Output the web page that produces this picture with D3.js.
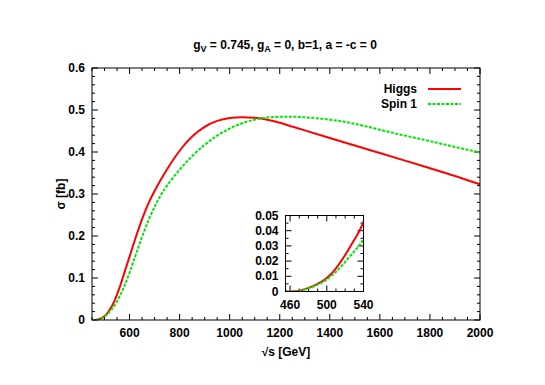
<!DOCTYPE html>
<html>
<head>
<meta charset="utf-8">
<script src="https://cdn.jsdelivr.net/npm/d3@7"></script>
<style>
  body { margin: 0; background: #fff; }
  svg text { font-family: "Liberation Sans", Arial, sans-serif; font-weight: bold; fill: #000; }
</style>
</head>
<body>
<div id="chart"></div>
<script>
// energies (GeV) and cross sections (fb)
var energies = [450, 460, 470, 480, 490, 500, 510, 520, 530, 540, 560, 580, 600, 620, 640, 660, 680, 700, 720, 750, 800, 850, 900, 950, 1000, 1050, 1100, 1150, 1200, 1250, 1300, 1400, 1500, 1600, 1700, 1800, 1900, 2000];
var higgsS = [0, 0, 0.0005, 0.0024, 0.005, 0.0088, 0.0152, 0.024, 0.034, 0.0457, 0.077, 0.114, 0.151, 0.188, 0.2235, 0.2555, 0.2835, 0.307, 0.329, 0.359, 0.403, 0.437, 0.460, 0.474, 0.481, 0.483, 0.4815, 0.477, 0.4695, 0.4605, 0.4515, 0.4335, 0.4155, 0.3975, 0.3795, 0.3615, 0.343, 0.323];
var spinS = [0, 0, 0.0004, 0.0022, 0.0045, 0.008, 0.013, 0.0195, 0.0265, 0.0345, 0.056, 0.082, 0.113, 0.147, 0.181, 0.214, 0.2435, 0.2695, 0.2925, 0.320, 0.358, 0.390, 0.417, 0.439, 0.456, 0.4685, 0.477, 0.482, 0.484, 0.484, 0.4825, 0.477, 0.467, 0.453, 0.439, 0.426, 0.412, 0.399];

var seriesNames = ["Higgs", "Spin 1"];
var xTicks = [600, 800, 1000, 1200, 1400, 1600, 1800, 2000];
var yTicks = [0, 0.1, 0.2, 0.3, 0.4, 0.5, 0.6];
var insetXTicks = [460, 500, 540];
var insetYTicks = [0, 0.01, 0.02, 0.03, 0.04, 0.05];

var higgs = energies.map(function(e, i) { return {e: e, s: higgsS[i]}; });
var spin = energies.map(function(e, i) { return {e: e, s: spinS[i]}; });

var W = 545, H = 385;
var svg = d3.select("#chart").append("svg")
    .attr("width", W)
    .attr("height", H);

var red = "#ff0000", green = "#00e600";

function drawPanel(box, xDom, yDom, xt, yt, xMinor, yMinor, fmtY, id) {
  var x = d3.scaleLinear().domain(xDom).range([box.left, box.right]);
  var y = d3.scaleLinear().domain(yDom).range([box.bottom, box.top]);
  var g = svg.append("g");

  g.append("rect")
    .attr("x", box.left).attr("y", box.top)
    .attr("width", box.right - box.left).attr("height", box.bottom - box.top)
    .attr("fill", "#fff");

  // ticks (inward, on all four sides)
  var minorX = d3.range(Math.ceil(xDom[0] / xMinor) * xMinor, xDom[1] + 0.001, xMinor);
  var minorY = d3.range(yDom[0], yDom[1] + 1e-9, yMinor);
  minorX.forEach(function(v) {
    var major = xt.some(function(t) { return Math.abs(t - v) < 1e-6; });
    var len = major ? 6 : 3;
    g.append("line").attr("x1", x(v)).attr("x2", x(v)).attr("y1", box.bottom).attr("y2", box.bottom - len).attr("stroke", "#000");
    g.append("line").attr("x1", x(v)).attr("x2", x(v)).attr("y1", box.top).attr("y2", box.top + len).attr("stroke", "#000");
  });
  minorY.forEach(function(v) {
    var major = yt.some(function(t) { return Math.abs(t - v) < 1e-9; });
    var len = major ? 6 : 3;
    g.append("line").attr("y1", y(v)).attr("y2", y(v)).attr("x1", box.left).attr("x2", box.left + len).attr("stroke", "#000");
    g.append("line").attr("y1", y(v)).attr("y2", y(v)).attr("x1", box.right).attr("x2", box.right - len).attr("stroke", "#000");
  });

  g.append("clipPath").attr("id", id)
    .append("rect")
    .attr("x", box.left).attr("y", box.top - 2)
    .attr("width", box.right - box.left).attr("height", box.bottom - box.top + 2);

  var line = d3.line()
    .x(function(d) { return x(d.e); })
    .y(function(d) { return y(d.s); })
    .curve(d3.curveNatural);

  g.append("path").datum(higgs)
    .attr("clip-path", "url(#" + id + ")")
    .attr("d", line)
    .attr("fill", "none").attr("stroke", red).attr("stroke-width", 2);
  g.append("path").datum(spin)
    .attr("clip-path", "url(#" + id + ")")
    .attr("d", line)
    .attr("fill", "none").attr("stroke", green).attr("stroke-width", 2)
    .attr("stroke-dasharray", "3,1.5");

  g.append("rect")
    .attr("x", box.left).attr("y", box.top)
    .attr("width", box.right - box.left).attr("height", box.bottom - box.top)
    .attr("fill", "none").attr("stroke", "#000").attr("stroke-width", 1);

  g.selectAll(".xl").data(xt).enter().append("text")
    .attr("x", function(d) { return x(d); })
    .attr("y", box.bottom + 17)
    .attr("text-anchor", "middle")
    .attr("font-size", 12)
    .text(function(d) { return d; });
  g.selectAll(".yl").data(yt).enter().append("text")
    .attr("x", box.left - 7)
    .attr("y", function(d) { return y(d) + 4; })
    .attr("text-anchor", "end")
    .attr("font-size", 12)
    .text(fmtY);
  return g;
}

// main plot
drawPanel({left: 92, right: 480, top: 68, bottom: 320}, [450, 2000], [0, 0.6],
  xTicks, yTicks, 50, 0.02, function(d) { return d === 0 ? "0" : d3.format(".1f")(d); }, "clipMain");

// inset
drawPanel({left: 285.5, right: 363.5, top: 215.5, bottom: 291.5}, [455, 540], [0, 0.05],
  insetXTicks, insetYTicks, 10, 0.005, function(d) { return d === 0 ? "0" : d3.format(".2f")(d); }, "clipInset");

// title
var title = svg.append("text")
  .attr("x", 285).attr("y", 49)
  .attr("text-anchor", "middle")
  .attr("font-size", 12);
title.append("tspan").text("g");
title.append("tspan").attr("font-size", 9).attr("dy", 3).text("V");
title.append("tspan").attr("dy", -3).text(" = 0.745, g");
title.append("tspan").attr("font-size", 9).attr("dy", 3).text("A");
title.append("tspan").attr("dy", -3).text(" = 0, b=1, a = -c = 0");

// axis labels
svg.append("text")
  .attr("x", 286).attr("y", 356)
  .attr("text-anchor", "middle")
  .attr("font-size", 12)
  .text("\u221As [GeV]");
svg.append("text")
  .attr("transform", "translate(65,194) rotate(-90)")
  .attr("text-anchor", "middle")
  .attr("font-size", 12)
  .text("\u03c3 [fb]");

// legend
var legend = svg.append("g");
seriesNames.forEach(function(name, i) {
  var ly = 89 + i * 15;
  legend.append("text")
    .attr("x", 417).attr("y", ly + 4)
    .attr("text-anchor", "end")
    .attr("font-size", 12)
    .text(name);
  legend.append("line")
    .attr("x1", 428).attr("x2", 461)
    .attr("y1", ly).attr("y2", ly)
    .attr("stroke", i === 0 ? red : green)
    .attr("stroke-width", 2)
    .attr("stroke-dasharray", i === 0 ? null : "3,1.5");
});
</script>
</body>
</html>
